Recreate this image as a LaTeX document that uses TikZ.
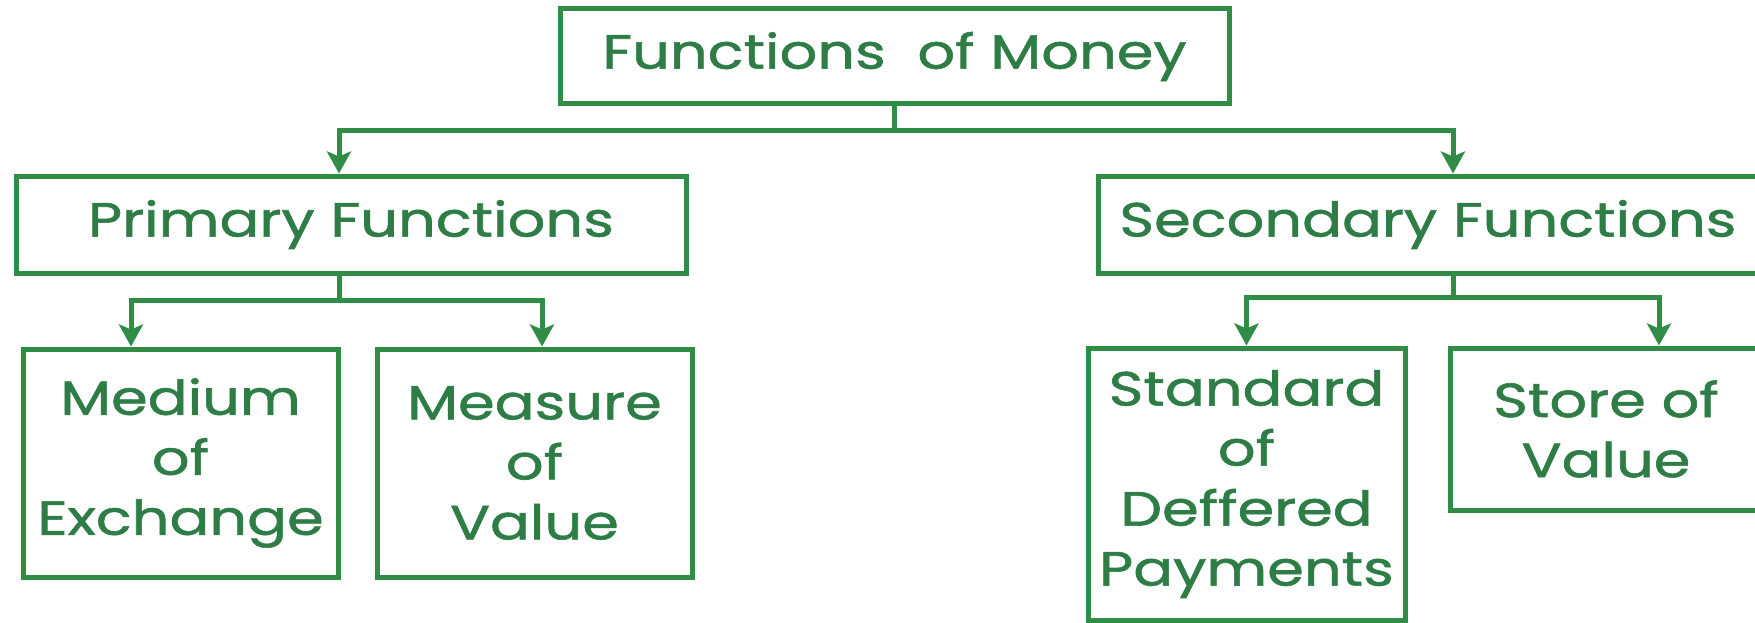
\documentclass[tikz,border=0pt]{standalone}
\usepackage{fontspec}
\setmainfont{Poppins}[FakeStretch=1.23, FakeBold=1.2]
\usetikzlibrary{arrows.meta}
\definecolor{gfg}{HTML}{2F8D46}
\definecolor{gfgtext}{HTML}{2E7D46}
\tikzset{
  box/.style={draw=gfg, line width=5pt, rectangle, inner sep=0pt, align=center,
    text=gfgtext, font=\fontsize{48}{60}\selectfont},
  link/.style={draw=gfg, line width=5pt},
  arr/.style={link, -{Stealth[length=22pt,width=24pt,inset=5pt]}}
}
\begin{document}
\begin{tikzpicture}[x=1pt,y=-1pt]
\fill[white] (0,0) rectangle (1755,623);
\useasboundingbox (0,0) rectangle (1755,623);
\node[box, minimum width=669pt, minimum height=95pt] (top) at (894.5,56.5) {Functions\ \ of Money};
\node[box, minimum width=670pt, minimum height=97pt] (primary) at (351,224.5) {Primary Functions};
\node[box, minimum width=660pt, minimum height=97pt] (secondary) at (1428,224.5) {Secondary Functions};
\node[box, minimum width=315pt, minimum height=228pt] (medium) at (180.5,463) {Medium\\of\\Exchange};
\node[box, minimum width=315pt, minimum height=228pt] (measure) at (534.5,463) {Measure\\of\\Value};
\node[box, minimum width=317pt, minimum height=272pt] (standard) at (1246.5,484) {Standard\\of\\Deffered\\Payments};
\node[box, minimum width=312pt, minimum height=162pt] (store) at (1606,429) {Store of\\Value};
\draw[arr] (top.south) -- ++(0,24) coordinate (tj) -| ([xshift=-12pt]primary.north);
\draw[arr] (tj) -| ([xshift=25pt]secondary.north);
\draw[arr] ([xshift=-12pt]primary.south) -- ++(0,25) coordinate (pj) -| ([xshift=-49.5pt]medium.north);
\draw[arr] (pj) -| ([xshift=7.5pt]measure.north);
\draw[arr] ([xshift=25pt]secondary.south) -- ++(0,22) coordinate (sj) -| (standard.north);
\draw[arr] (sj) -| ([xshift=53pt]store.north);
\end{tikzpicture}
\end{document}
